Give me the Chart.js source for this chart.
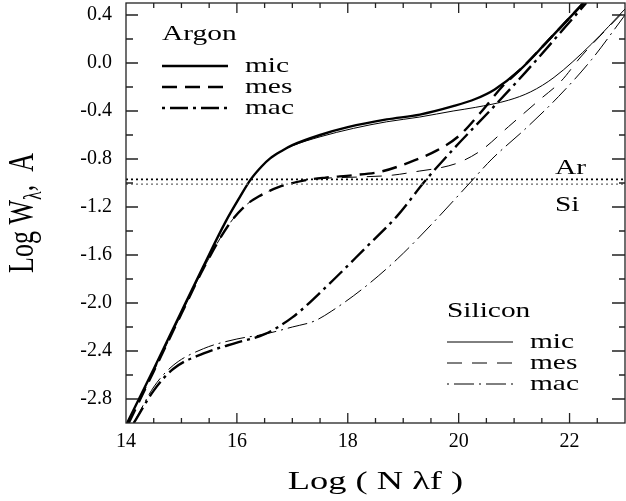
<!DOCTYPE html>
<html>
<head>
<meta charset="utf-8">
<script src="https://cdn.jsdelivr.net/npm/chart.js@4.4.1/dist/chart.umd.min.js"></script>
<style>
  html, body { margin: 0; padding: 0; background: #fff; }
  #wrap { width: 626px; height: 501px; }
</style>
</head>
<body>
<div id="wrap"><canvas id="cogChart"></canvas></div>
<script>
// curves of growth
const arMicX = [14.02, 14.5, 15.0, 15.4, 15.8, 16.05, 16.25, 16.45, 16.6, 16.8, 17.0, 17.5, 18.0, 18.7, 19.3, 19.9, 20.3, 20.65, 21.1, 21.6, 22.25];
const arMicY = [-3.0, -2.55, -2.07, -1.69, -1.32, -1.12, -0.97, -0.86, -0.795, -0.735, -0.685, -0.60, -0.535, -0.47, -0.43, -0.36, -0.30, -0.22, -0.06, 0.18, 0.5];

const arMesX = [14.05, 14.5, 15.0, 15.4, 15.85, 16.15, 16.4, 16.75, 17.2, 17.6, 18.1, 18.6, 19.1, 19.6, 20.0, 20.4, 20.8, 21.1, 21.6, 22.25];
const arMesY = [-3.0, -2.57, -2.09, -1.71, -1.35, -1.19, -1.11, -1.035, -0.98, -0.955, -0.935, -0.905, -0.83, -0.73, -0.61, -0.41, -0.19, -0.06, 0.18, 0.5];

const arMacX = [14.14, 14.5, 14.85, 15.4, 16.0, 16.5, 17.0, 17.6, 18.3, 18.9, 19.4, 19.9, 20.6, 21.2, 22.3];
const arMacY = [-3.0, -2.73, -2.55, -2.42, -2.33, -2.26, -2.12, -1.87, -1.55, -1.27, -0.98, -0.72, -0.38, -0.08, 0.5];

const siMicX = [14.02, 14.5, 15.0, 15.4, 15.8, 16.05, 16.25, 16.45, 16.6, 16.8, 17.0, 17.5, 18.1, 18.7, 19.3, 19.9, 20.3, 20.9, 21.3, 21.72, 22.4, 23.0];
const siMicY = [-3.0, -2.55, -2.07, -1.69, -1.32, -1.12, -0.97, -0.86, -0.795, -0.735, -0.69, -0.615, -0.545, -0.49, -0.45, -0.40, -0.37, -0.31, -0.24, -0.12, 0.16, 0.45];

const siMesX = [14.05, 14.5, 15.0, 15.4, 15.85, 16.15, 16.4, 16.75, 17.2, 17.6, 18.2, 18.8, 19.3, 19.7, 20.0, 20.4, 20.9, 21.45, 21.85, 22.2, 23.0];
const siMesY = [-3.0, -2.57, -2.09, -1.71, -1.35, -1.19, -1.11, -1.035, -0.98, -0.96, -0.95, -0.935, -0.90, -0.87, -0.83, -0.73, -0.53, -0.31, -0.15, 0.05, 0.44];

const siMacX = [14.14, 14.5, 14.85, 15.4, 16.0, 16.5, 17.0, 17.4, 17.7, 18.3, 18.9, 19.5, 20.2, 20.6, 21.2, 21.8, 22.4, 23.0];
const siMacY = [-3.0, -2.70, -2.52, -2.38, -2.30, -2.26, -2.20, -2.15, -2.07, -1.87, -1.63, -1.35, -1.0, -0.80, -0.55, -0.28, 0.03, 0.40];

const limitAr = -0.97;
const limitSi = -1.01;

const xTicks = [14, 16, 18, 20, 22];
const yTicks = [-2.8, -2.4, -2.0, -1.6, -1.2, -0.8, -0.4, 0.0, 0.4];

const FONT = "'Liberation Serif', 'Times New Roman', serif";
const SX = 1.4; // the original lettering is stretched sideways

function pts(xs, ys) {
    return xs.map((x, i) => ({ x: x, y: ys[i] }));
}

function curve(label, group, xs, ys, width, dash) {
    return {
        label: label,
        group: group,
        data: pts(xs, ys),
        borderColor: '#000',
        borderWidth: width,
        borderDash: dash,
        pointRadius: 0,
        fill: false,
        cubicInterpolationMode: 'monotone'
    };
}

function level(value, color, width) {
    return {
        label: 'limit',
        data: [{ x: 14, y: value }, { x: 23, y: value }],
        borderColor: color,
        borderWidth: width,
        borderDash: [2, 3],
        pointRadius: 0,
        fill: false
    };
}

function wideText(ctx, str, x, y, size, align) {
    ctx.save();
    ctx.font = size + 'px ' + FONT;
    ctx.fillStyle = '#000';
    ctx.textAlign = align || 'left';
    ctx.textBaseline = 'alphabetic';
    ctx.translate(x, y);
    ctx.scale(SX, 1);
    ctx.fillText(str, 0, 0);
    ctx.restore();
}

function drawKey(ctx, title, sets, x0, titleY, rowY) {
    wideText(ctx, title, x0, titleY, 21);
    sets.forEach((ds, i) => {
        const y = rowY + i * 21;
        ctx.save();
        ctx.strokeStyle = '#000';
        ctx.lineWidth = ds.borderWidth;
        ctx.setLineDash(ds.borderDash || []);
        if (ds.label === 'mac') ctx.lineDashOffset = ds.borderDash[0] + ds.borderDash[1];
        ctx.beginPath();
        ctx.moveTo(x0, y);
        ctx.lineTo(x0 + 66, y);
        ctx.stroke();
        ctx.restore();
        wideText(ctx, ds.label, x0 + 83, y + 6, 21);
    });
}

const decor = {
    id: 'decor',
    afterDatasetsDraw(chart) {
        const ctx = chart.ctx;
        const a = chart.chartArea;
        const xs = chart.scales.x;
        const ys = chart.scales.y;

        ctx.save();
        ctx.strokeStyle = '#222';
        ctx.lineWidth = 1.3;
        ctx.strokeRect(a.left, a.top, a.right - a.left, a.bottom - a.top);

        // inward ticks on all four sides
        ctx.beginPath();
        for (let i = 29; i < 46; i++) {
            const v = i / 2;
            const px = xs.getPixelForValue(v);
            const len = xTicks.includes(v) ? 10 : 5;
            ctx.moveTo(px, a.bottom); ctx.lineTo(px, a.bottom - len);
            ctx.moveTo(px, a.top); ctx.lineTo(px, a.top + len);
        }
        for (let i = -14; i <= 2; i++) {
            const v = i / 5;
            const py = ys.getPixelForValue(v);
            const major = (i % 2 === 0);
            ctx.moveTo(a.left, py); ctx.lineTo(a.left + (major ? 12 : 7), py);
            ctx.moveTo(a.right, py); ctx.lineTo(a.right - (major ? 13 : 6), py);
        }
        ctx.stroke();
        ctx.restore();

        const sets = chart.data.datasets;
        drawKey(ctx, 'Argon', sets.filter(d => d.group === 'Argon'), 162, 40, 66);
        drawKey(ctx, 'Silicon', sets.filter(d => d.group === 'Silicon'), 447, 317, 342);

        wideText(ctx, 'Ar', 555, ys.getPixelForValue(limitAr) - 5, 21);
        wideText(ctx, 'Si', 555, ys.getPixelForValue(limitSi) + 27, 21);

        // axis titles
        wideText(ctx, 'Log ( N \u03bbf )', (a.left + a.right) / 2, 489, 26, 'center');

        ctx.save();
        ctx.fillStyle = '#000';
        ctx.translate(33, (a.top + a.bottom) / 2);
        ctx.scale(SX, 1);
        ctx.rotate(-Math.PI / 2);
        ctx.textBaseline = 'alphabetic';
        ctx.font = '26px ' + FONT;
        const p1 = 'Log W', p3 = ',  A';
        const w1 = ctx.measureText(p1).width;
        const w3 = ctx.measureText(p3).width;
        ctx.font = '18px ' + FONT;
        const w2 = ctx.measureText('\u03bb').width;
        let s = -(w1 + w2 + w3) / 2;
        ctx.fillText('\u03bb', s + w1, 6);
        ctx.font = '26px ' + FONT;
        ctx.fillText(p1, s, 0);
        ctx.fillText(p3, s + w1 + w2, 0);
        ctx.restore();
    }
};

new Chart(document.getElementById('cogChart'), {
    type: 'line',
    data: {
        datasets: [
            level(limitAr, '#000', 1.6),
            level(limitSi, '#666', 1.2),
            curve('mic', 'Silicon', siMicX, siMicY, 1, []),
            curve('mes', 'Silicon', siMesX, siMesY, 1, [15, 10]),
            curve('mac', 'Silicon', siMacX, siMacY, 1, [20, 5, 2, 5]),
            curve('mic', 'Argon', arMicX, arMicY, 2.4, []),
            curve('mes', 'Argon', arMesX, arMesY, 2.4, [15, 8]),
            curve('mac', 'Argon', arMacX, arMacY, 2.4, [18, 5, 3, 5])
        ]
    },
    options: {
        responsive: true,
        maintainAspectRatio: false,
        animation: false,
        layout: { padding: { top: 3, right: 1, left: 0, bottom: 0 } },
        plugins: {
            legend: { display: false },
            tooltip: { enabled: false }
        },
        scales: {
            x: {
                type: 'linear',
                min: 14,
                max: 23,
                afterBuildTicks: s => { s.ticks = xTicks.map(v => ({ value: v })); },
                afterFit: s => { s.height = 78; s.paddingLeft = 0; s.paddingRight = 0; },
                grid: { display: false, drawTicks: false },
                border: { display: false },
                ticks: {
                    color: '#000',
                    padding: 7,
                    maxRotation: 0,
                    autoSkip: false,
                    font: { family: FONT, size: 20 },
                    callback: v => String(v)
                }
            },
            y: {
                type: 'linear',
                min: -3.0,
                max: 0.5,
                afterBuildTicks: s => { s.ticks = yTicks.map(v => ({ value: v })); },
                afterFit: s => { s.width = 126; s.paddingTop = 0; s.paddingBottom = 0; },
                grid: { display: false, drawTicks: false },
                border: { display: false },
                ticks: {
                    color: '#000',
                    padding: 14,
                    autoSkip: false,
                    font: { family: FONT, size: 20 },
                    callback: v => v.toFixed(1)
                }
            }
        }
    },
    plugins: [decor]
});
</script>
</body>
</html>
